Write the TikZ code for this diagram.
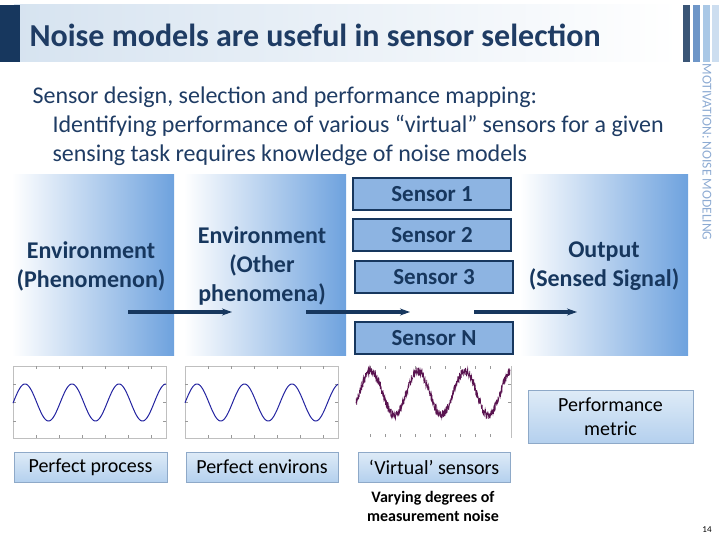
\documentclass[tikz,border=0pt]{standalone}
\usepackage{fontspec}
\setmainfont{Carlito}
\usetikzlibrary{arrows.meta}
\definecolor{titleblue}{RGB}{31,60,100}
\definecolor{darkb}{RGB}{23,55,94}
\definecolor{sensfill}{RGB}{141,180,226}
\definecolor{gradb}{RGB}{110,162,222}
\definecolor{lblt}{RGB}{222,235,247}
\definecolor{lblb}{RGB}{180,208,238}
\definecolor{lbld}{RGB}{142,169,200}
\definecolor{sidetxt}{RGB}{140,170,210}
\definecolor{sinecol}{RGB}{35,35,160}
\definecolor{noisecol}{RGB}{90,20,80}
\definecolor{titlebg}{RGB}{214,227,240}
\definecolor{barb}{RGB}{110,150,200}
\definecolor{barc}{RGB}{170,200,230}
\definecolor{bard}{RGB}{205,222,240}
\tikzset{
  gradbox/.style={draw=none,shading=axis,left color=white,right color=gradb},
  sensorbox/.style={draw=darkb,line width=2.6pt,fill=sensfill,minimum width=158pt,minimum height=32pt,inner sep=0pt,font=\bfseries\fontsize{23}{25}\selectfont,text=darkb},
  envtext/.style={font=\bfseries\fontsize{24}{29}\selectfont,text=darkb,align=center},
  lblbox/.style={draw=lbld,line width=0.6pt,top color=lblt,bottom color=lblb,inner sep=0pt,font=\fontsize{20}{24}\selectfont,text=black,align=center},
  flowarrow/.style={draw=darkb,line width=3.5pt,-{Stealth[length=10pt,width=7pt]}},
  frame/.style={draw=black!25,line width=0.6pt},
  tick/.style={draw=black!40,line width=0.5pt},
  bodytext/.style={anchor=west,font=\fontsize{24}{26}\selectfont,text=titleblue}
}
\begin{document}
\begin{tikzpicture}[x=1pt,y=-1pt]
\useasboundingbox (0,0) rectangle (720,540);
% title bar
\shade[left color=titlebg,right color=white] (14,5) rectangle (680,62);
\fill[darkb] (0,5) rectangle (20,62);
\node[anchor=west,font=\bfseries\fontsize{32}{34}\selectfont,text=titleblue] (title) at (26,35) {Noise models are useful in sensor selection};
% right bars
\fill[darkb!85] (683,5) rectangle (690,62);
\fill[barb] (693,5) rectangle (700,62);
\fill[barc] (703,5) rectangle (710,62);
\fill[bard] (712,5) rectangle (719,62);
\node[rotate=-90,font=\fontsize{13.5}{14}\selectfont,text=sidetxt] (side) at (707,152) {MOTIVATION: NOISE MODELING};
% body text
\node[bodytext] (l1) at (29,97) {Sensor design, selection and performance mapping:};
\node[bodytext] (l2) at (49,126) {Identifying performance of various “virtual” sensors for a given};
\node[bodytext] (l3) at (49,155) {sensing task requires knowledge of noise models};
% gradient boxes
\shade[gradbox] (12,175) rectangle (174,355);
\shade[gradbox] (184,175) rectangle (346,355);
\shade[gradbox] (520,175) rectangle (688,355);
\node[envtext] (env1) at (91,266) {Environment\\(Phenomenon)};
\node[envtext] (env2) at (262,266) {Environment\\(Other\\phenomena)};
\node[envtext] (out) at (604,266) {Output\\(Sensed Signal)};
% sensors
\node[sensorbox] (s1) at (432,194) {Sensor 1};
\node[sensorbox] (s2) at (432,235) {Sensor 2};
\node[sensorbox] (s3) at (434,277) {Sensor 3};
\node[sensorbox] (sn) at (434,338) {Sensor N};
% arrows
\coordinate (a1s) at (128,312); \coordinate (a1e) at (232,312);
\coordinate (a2s) at (306,312); \coordinate (a2e) at (410,312);
\coordinate (a3s) at (474,312); \coordinate (a3e) at (577,312);
\draw[flowarrow] (a1s) -- (a1e);
\draw[flowarrow] (a2s) -- (a2e);
\draw[flowarrow] (a3s) -- (a3e);
% plot 1
\draw[frame] (13,366) rectangle (166,438);
\foreach \xx in {36,59,82,105,128,151}{\draw[tick] (\xx,366) -- (\xx,369); \draw[tick] (\xx,438) -- (\xx,435);}
\foreach \yy in {384,402,421}{\draw[tick] (13,\yy) -- (16,\yy); \draw[tick] (166,\yy) -- (163,\yy);}
\draw[sinecol,line width=1pt] plot[domain=13:166,samples=200,smooth] (\x,{402.5-18.5*cos((\x-25)/47*360)});
% plot 2
\draw[frame] (185,366) rectangle (338,438);
\foreach \xx in {208,231,254,277,300,323}{\draw[tick] (\xx,366) -- (\xx,369); \draw[tick] (\xx,438) -- (\xx,435);}
\foreach \yy in {384,402,421}{\draw[tick] (185,\yy) -- (188,\yy); \draw[tick] (338,\yy) -- (335,\yy);}
\draw[sinecol,line width=1pt] plot[domain=185:338,samples=200,smooth] (\x,{402.5-18.5*cos((\x-197)/47.5*360)});
% plot 3
\foreach \xx in {370,385,400,415,430,445,460,475,490}{\draw[tick] (\xx,366) -- (\xx,369); \draw[tick] (\xx,437) -- (\xx,434);}
\draw[frame] (511,366) -- (511,438);
\foreach \yy in {384,402}{\draw[tick] (511,\yy) -- (508,\yy);}
\pgfmathsetseed{7}
\draw[noisecol,line width=0.6pt] plot[domain=356:510,samples=700] (\x,{393-22*cos((\x-418)/47*360)+4.5*rand});
% labels
\node[lblbox,minimum width=153pt,minimum height=30pt] (lp) at (90.5,467) {Perfect process};
\node[lblbox,minimum width=152pt,minimum height=30pt] (le) at (262,467) {Perfect environs};
\node[lblbox,minimum width=152pt,minimum height=30pt] (lv) at (434,467) {‘Virtual’ sensors};
\node[lblbox,minimum width=165pt,minimum height=53pt] (lm) at (610.5,417) {Performance\\metric};
\node[font=\bfseries\fontsize{16}{19}\selectfont,align=center,text=black] (vary) at (433,506) {Varying degrees of\\measurement noise};
\node[font=\fontsize{9}{10}\selectfont\rmfamily,text=black] (pg) at (707,530) {14};
\end{tikzpicture}
\end{document}
